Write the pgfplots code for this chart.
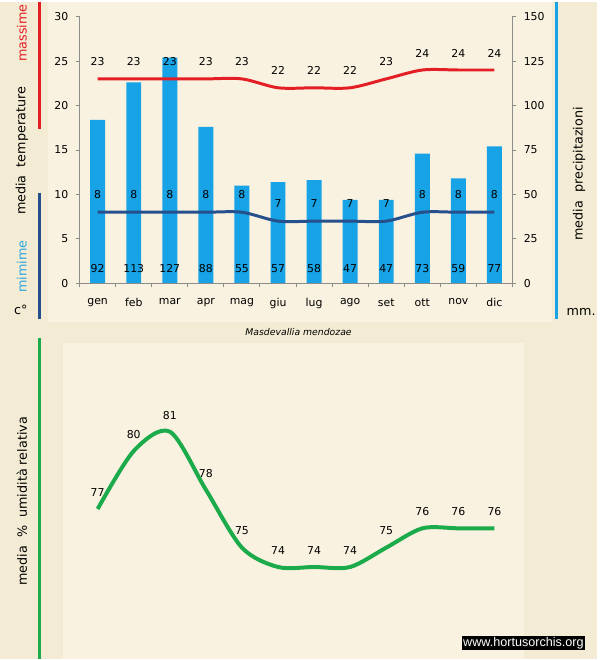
\documentclass[border=0pt]{standalone}
\usepackage{pgfplots}
\pgfplotsset{compat=1.18}
\usepackage{fontspec}
\setmainfont{DejaVu Sans}
\newfontfamily\wmfont{Liberation Sans}
\definecolor{bg}{HTML}{F3EBD3}
\definecolor{bgin}{HTML}{FAF2E1}
\definecolor{barc}{HTML}{18A3E6}
\definecolor{tmax}{HTML}{E31E24}
\definecolor{tmin}{HTML}{25508B}
\definecolor{hum}{HTML}{1CAB4B}
\definecolor{axg}{HTML}{8C8C8C}
\definecolor{minc}{HTML}{2AA6DE}
\pgfplotsset{/pgf/number format/assume math mode=true}
\newcommand{\fs}{\fontsize{8.2}{9.8}\selectfont}
\newcommand{\fl}{\fontsize{9.6}{11}\selectfont}
\begin{document}
\begin{tikzpicture}
\fill[bg] (0,0) rectangle (450pt,495pt);
\fill[bgin] (36pt,253.5pt) rectangle (416pt,495pt);
\fill[bgin] (47.25pt,0pt) rectangle (395.25pt,237.75pt);
% right axis: precipitation bars
\begin{axis}[at={(60pt,282.75pt)}, anchor=south west, scale only axis,
  width=326.25pt, height=201pt, xmin=-0.5, xmax=11.5, ymin=0, ymax=150,
  axis y line*=right, axis x line=none, axis line style={-, axg, line width=0.75pt},
  ytick={0,25,...,150}, tick align=outside, major tick length=3pt,
  tick style={axg, line width=0.75pt}, yticklabel style={font=\fs, xshift=2pt},
  clip=false]
\addplot[ybar, bar width=11.25pt, fill=barc, draw=none] coordinates {
(0,92) (1,113) (2,127) (3,88) (4,55) (5,57) (6,58) (7,47) (8,47) (9,73) (10,59) (11,77)};
\addplot[draw=none, mark=none, nodes near coords, point meta=explicit symbolic,
  nodes near coords style={anchor=center, yshift=11.25pt, font=\fs, text=black}] coordinates {
(0,0)[92] (1,0)[113] (2,0)[127] (3,0)[88] (4,0)[55] (5,0)[57] (6,0)[58] (7,0)[47] (8,0)[47] (9,0)[73] (10,0)[59] (11,0)[77]};
\end{axis}
% left axis: temperatures
\begin{axis}[at={(60pt,282.75pt)}, anchor=south west, scale only axis,
  width=326.25pt, height=201pt, xmin=-0.5, xmax=11.5, ymin=0, ymax=30,
  axis y line*=left, axis x line*=bottom, axis line style={-, axg, line width=0.75pt},
  ytick={0,5,...,30}, xtick={0,...,11},
  xticklabels={gen,feb,mar,apr,mag,giu,lug,ago,set,ott,nov,dic},
  minor xtick={-0.5,0.5,...,11.5}, major x tick style={draw=none},
  tick align=outside, major tick length=3pt, minor tick length=3pt,
  tick style={axg, line width=0.75pt},
  yticklabel style={font=\fs, xshift=-2pt}, xticklabel style={font=\fs, yshift=-5pt},
  clip=false]
\addplot[tmax, line width=2.25pt, smooth, nodes near coords,
  nodes near coords style={anchor=center, yshift=12.75pt, font=\fs, text=black}] coordinates {
(0,23) (1,23) (2,23) (3,23) (4,23) (5,22) (6,22) (7,22) (8,23) (9,24) (10,24) (11,24)};
\addplot[tmin, line width=2.25pt, smooth, nodes near coords,
  nodes near coords style={anchor=center, yshift=13.5pt, font=\fs, text=black}] coordinates {
(0,8) (1,8) (2,8) (3,8) (4,8) (5,7) (6,7) (7,7) (8,7) (9,8) (10,8) (11,8)};
\end{axis}
% bottom axis: humidity
\begin{axis}[at={(60pt,0pt)}, anchor=south west, scale only axis,
  width=326.25pt, height=237.75pt, xmin=-0.5, xmax=11.5, ymin=69.265, ymax=85.585,
  hide axis, clip=false]
\addplot[hum, line width=3pt, smooth, nodes near coords,
  nodes near coords style={anchor=center, yshift=12.5pt, font=\fs, text=black}] coordinates {
(0,77) (1,80) (2,81) (3,78) (4,75) (5,74) (6,74) (7,74) (8,75) (9,76) (10,76) (11,76)};
\end{axis}
% decorations
\draw[tmax, line width=2.25pt] (30pt,495pt) -- (30pt,399pt);
\draw[tmin, line width=2.25pt] (30pt,351pt) -- (30pt,255.75pt);
\draw[barc, line width=2.25pt] (419.25pt,495pt) -- (419.25pt,255.75pt);
\draw[hum, line width=2.25pt] (30pt,241.5pt) -- (30pt,0pt);
\node[rotate=90, text=tmax, font=\fl] at (16.5pt,471.4pt) {massime};
\node[rotate=90, font=\fl] at (16.5pt,382.5pt) {media~~temperature};
\node[rotate=90, text=minc, font=\fl] at (16.5pt,295.5pt) {mimime};
\node[font=\fl] at (15.75pt,262.5pt) {c°};
\node[rotate=90, font=\fl] at (436.5pt,365.25pt) {media~~precipitazioni};
\node[font=\fl] at (438pt,261pt) {mm.};
\node[rotate=90, font=\fl] at (16.5pt,118.5pt) {media~~\%~~umidità relativa};
\node[font=\itshape\fontsize{7}{8}\selectfont] at (225pt,246pt) {Masdevallia mendozae};
\node[fill=black, text=white, inner sep=1pt, font=\wmfont\fontsize{9.5}{10}\selectfont] at (394.5pt,11.6pt) {www.hortusorchis.org};
\end{tikzpicture}
\end{document}
